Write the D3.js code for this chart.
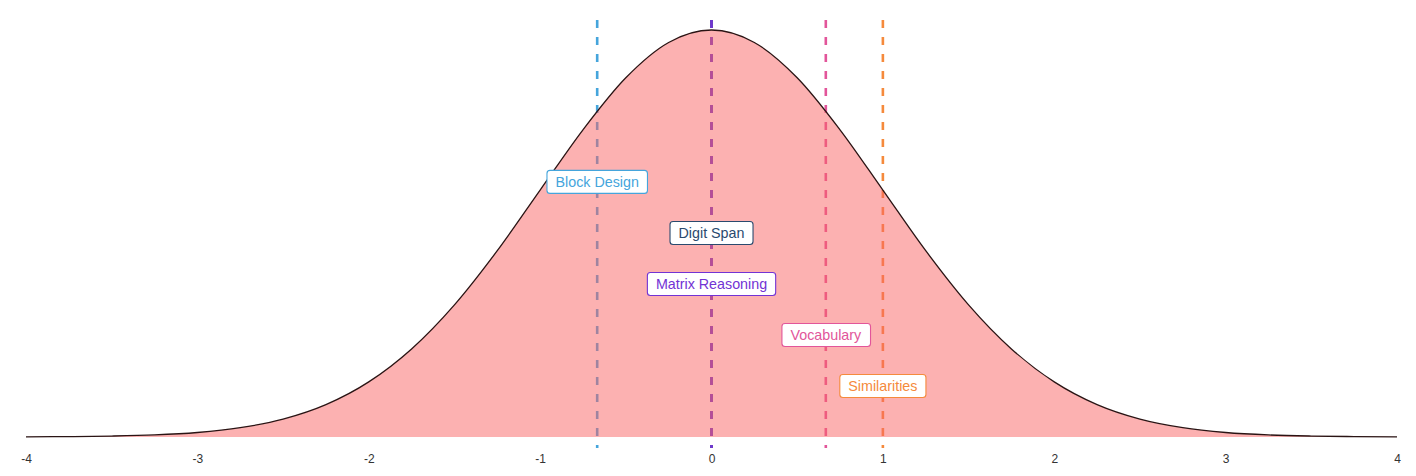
<!DOCTYPE html>
<html>
<head>
<meta charset="utf-8">
<script src="https://cdn.jsdelivr.net/npm/d3@7"></script>
<style>
  html, body { margin: 0; padding: 0; background: #ffffff; }
  svg { display: block; }
</style>
</head>
<body>
<svg id="chart" width="1416" height="476"></svg>
<script>
// Density curve samples (standard normal), x and density
const curveX = [-4,-3.75,-3.5,-3.25,-3,-2.75,-2.5,-2.25,-2,-1.75,-1.5,-1.25,-1,-0.75,-0.5,-0.25,0,0.25,0.5,0.75,1,1.25,1.5,1.75,2,2.25,2.5,2.75,3,3.25,3.5,3.75,4];
const curveY = [0.0001,0.0004,0.0009,0.0020,0.0044,0.0091,0.0175,0.0317,0.0540,0.0863,0.1295,0.1826,0.2420,0.3011,0.3521,0.3867,0.3989,0.3867,0.3521,0.3011,0.2420,0.1826,0.1295,0.0863,0.0540,0.0317,0.0175,0.0091,0.0044,0.0020,0.0009,0.0004,0.0001];

// Subtests, their z-scores and label heights
const subtests = ["Block Design","Digit Span","Matrix Reasoning","Vocabulary","Similarities"];
const zScores = [-0.667, 0, 0, 0.667, 1.0];
const labelY = [0.25, 0.20, 0.15, 0.10, 0.05];
const colors = ["#45a5dc","#2a4a6e","#7233d4","#e2559a","#f58a3c"];

const xTicks = [-4,-3,-2,-1,0,1,2,3,4];

const svg = d3.select("#chart");
const x = d3.scaleLinear().domain([-4, 4]).range([26, 1397]);
const y = d3.scaleLinear().domain([-0.0108, 0.4087]).range([448, 20]);

// Vertical dashed lines (drawn first, fill overlays them)
svg.append("g").selectAll("line").data(subtests).join("line")
  .attr("x1", (d,i) => x(zScores[i])).attr("x2", (d,i) => x(zScores[i]))
  .attr("y1", y(0.4087)).attr("y2", y(-0.0108))
  .attr("stroke", (d,i) => colors[i])
  .attr("stroke-width", 2.6)
  .attr("stroke-dasharray", "8,9");

const pts = curveX.map((v,i) => [v, curveY[i]]);
const area = d3.area().x(d => x(d[0])).y0(y(0)).y1(d => y(d[1])).curve(d3.curveMonotoneX);
svg.append("path").datum(pts).attr("d", area)
  .attr("fill", "#fa6464").attr("fill-opacity", 0.5);
const line = d3.line().x(d => x(d[0])).y(d => y(d[1])).curve(d3.curveMonotoneX);
svg.append("path").datum(pts).attr("d", line)
  .attr("fill", "none").attr("stroke", "#2a1414").attr("stroke-width", 1.3);

// Axis (tick labels only)
const axis = svg.append("g").attr("transform", `translate(0,${y(0)})`)
  .call(d3.axisBottom(x).tickValues(xTicks).tickFormat(d => String(d)).tickSize(0).tickPadding(18));
axis.select(".domain").remove();
axis.selectAll("text").attr("font-family", "Liberation Sans, Arial, sans-serif")
  .attr("font-size", 12).attr("fill", "#333333");

// Labels
const lg = svg.append("g").selectAll("g").data(subtests).join("g")
  .attr("transform", (d,i) => `translate(${x(zScores[i])},${y(labelY[i])})`);
lg.append("text")
  .attr("text-anchor", "middle").attr("dy", "0.35em")
  .attr("font-family", "Liberation Sans, Arial, sans-serif")
  .attr("font-size", 14.3)
  .attr("fill", (d,i) => colors[i])
  .text(d => d);
lg.each(function(d,i) {
  const g = d3.select(this);
  const bb = g.select("text").node().getBBox();
  g.insert("rect", "text")
    .attr("x", bb.x - 8.5).attr("y", -11.5)
    .attr("width", bb.width + 17).attr("height", 23)
    .attr("rx", 3).attr("ry", 3)
    .attr("fill", "#ffffff")
    .attr("stroke", colors[i]).attr("stroke-width", 1.1);
});
</script>
</body>
</html>
